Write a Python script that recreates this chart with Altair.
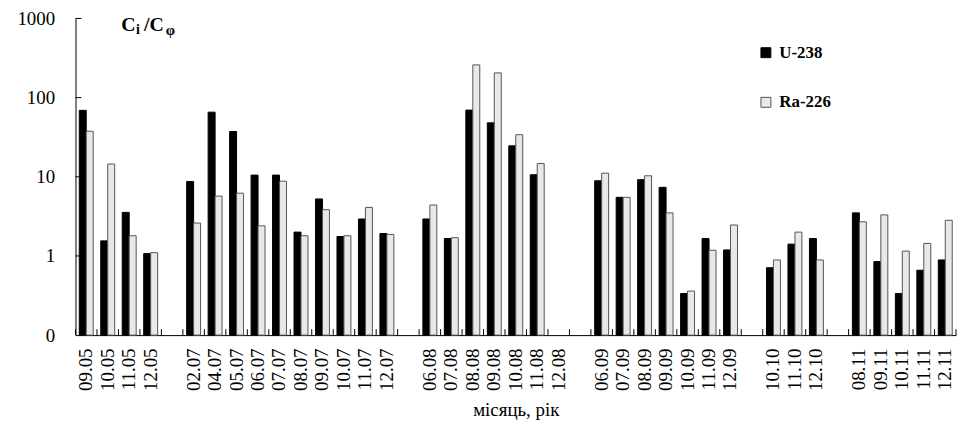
import altair as alt
import pandas as pd

# x-axis slots in order (blank strings are the empty gaps between years)
axis_slots = ["09.05", "10.05", "11.05", "12.05", " ",
              "02.07", "04.07", "05.07", "06.07", "07.07", "08.07", "09.07", "10.07", "11.07", "12.07", "  ",
              "06.08", "07.08", "08.08", "09.08", "10.08", "11.08", "12.08", "   ",
              "06.09", "07.09", "08.09", "09.09", "10.09", "11.09", "12.09", "    ",
              "10.10", "11.10", "12.10", "     ",
              "08.11", "09.11", "10.11", "11.11", "12.11"]

months = ["09.05", "10.05", "11.05", "12.05",
          "02.07", "04.07", "05.07", "06.07", "07.07", "08.07", "09.07", "10.07", "11.07", "12.07",
          "06.08", "07.08", "08.08", "09.08", "10.08", "11.08", "12.08",
          "06.09", "07.09", "08.09", "09.09", "10.09", "11.09", "12.09",
          "10.10", "11.10", "12.10",
          "08.11", "09.11", "10.11", "11.11", "12.11"]

u238 = [69, 1.55, 3.55, 1.07,
        8.7, 65.5, 37.3, 10.5, 10.5, 2.0, 5.25, 1.76, 2.93, 1.92,
        2.93, 1.66, 69.5, 48, 24.6, 10.6, None,
        8.9, 5.5, 9.2, 7.35, 0.335, 1.66, 1.19,
        0.71, 1.41, 1.66,
        3.5, 0.85, 0.335, 0.66, 0.89]

ra226 = [37.6, 14.5, 1.8, 1.1,
         2.6, 5.7, 6.2, 2.4, 8.8, 1.8, 3.84, 1.8, 4.1, 1.87,
         4.4, 1.7, 259, 205, 34, 14.7, None,
         11.1, 5.5, 10.3, 3.5, 0.36, 1.18, 2.46,
         0.89, 2.0, 0.89,
         2.7, 3.3, 1.15, 1.44, 2.82]

series_names = ["U-238", "Ra-226"]
y_ticks = [1, 10, 100, 1000]
y_base = 0.1

rows = []
for m, u, r in zip(months, u238, ra226):
    if u is not None:
        rows.append({"month": m, "series": "U-238", "value": u})
    if r is not None:
        rows.append({"month": m, "series": "Ra-226", "value": r})
df = pd.DataFrame(rows)
slots_df = pd.DataFrame({"month": axis_slots})
last_df = pd.DataFrame({"month": axis_slots[-1:]})
yt_df = pd.DataFrame({"tick": y_ticks})

FONT = "Liberation Serif"
W, H = 887, 319

xscale = alt.Scale(domain=axis_slots, paddingInner=0, paddingOuter=0)
yscale = alt.Scale(type="log", domain=[0.1, 1000])
xaxis = alt.Axis(title="місяць, рік", labelAngle=270, labelPadding=13, ticks=False, titlePadding=10)
yaxis = alt.Axis(title=None, values=[0.1, 1, 10, 100, 1000], format="d", ticks=False,
                 grid=False, labelFontSize=19, labelPadding=21)

bars = alt.Chart(df).mark_bar(strokeWidth=1).encode(
    x=alt.X("month:N", scale=xscale, sort=axis_slots, axis=xaxis),
    xOffset=alt.XOffset("series:N", sort=series_names,
                        scale=alt.Scale(domain=series_names, paddingOuter=0.54, paddingInner=0)),
    y=alt.Y("value:Q", scale=yscale, axis=yaxis),
    y2=alt.datum(y_base),
    color=alt.Color("series:N", sort=series_names,
                    scale=alt.Scale(domain=series_names, range=["#000000", "#e8e8e8"]),
                    legend=alt.Legend(title=None, orient="none", legendX=687, legendY=26,
                                      symbolType="square", symbolSize=100, symbolStrokeColor="#333333",
                                      symbolStrokeWidth=1, labelFont=FONT, labelFontSize=17,
                                      labelFontWeight="bold", labelColor="black", rowPadding=32,
                                      labelOffset=5, padding=0)),
    stroke=alt.Stroke("series:N", scale=alt.Scale(domain=series_names, range=["#000000", "#555555"]),
                      legend=None),
)

xticks = alt.Chart(slots_df).mark_rule(color="black", strokeWidth=1).encode(
    x=alt.X("month:N", scale=xscale, bandPosition=0, axis=xaxis),
    y=alt.value(H - 6), y2=alt.value(H),
)
xtick_last = alt.Chart(last_df).mark_rule(color="black", strokeWidth=1).encode(
    x=alt.X("month:N", scale=xscale, bandPosition=1, axis=xaxis),
    y=alt.value(H - 6), y2=alt.value(H),
)
yticks = alt.Chart(yt_df).mark_rule(color="black", strokeWidth=1).encode(
    y=alt.Y("tick:Q", scale=yscale, axis=yaxis),
    x=alt.value(0), x2=alt.value(6),
)


def txt(s, x, y, size):
    return alt.Chart(pd.DataFrame({"t": [s]})).mark_text(
        font=FONT, fontWeight="bold", fontSize=size, align="left", baseline="alphabetic", color="black"
    ).encode(text="t:N", x=alt.value(x), y=alt.value(y))


label = txt("C", 46, 13, 20) + txt("i", 61, 16, 14) + txt("/C", 69, 13, 20) + txt("φ", 91, 17, 15)

chart = alt.layer(bars, xticks, xtick_last, yticks, label).properties(
    width=W, height=H,
    padding={"left": 9, "top": 0, "right": 0, "bottom": 0},
).configure_view(stroke=None).configure_axis(
    labelFont=FONT, titleFont=FONT, labelColor="black", titleColor="black",
    domainColor="black", labelFontSize=19, titleFontSize=19, titleFontWeight="normal",
)

chart.save("out.html", embed_options={"renderer": "svg", "actions": False})
